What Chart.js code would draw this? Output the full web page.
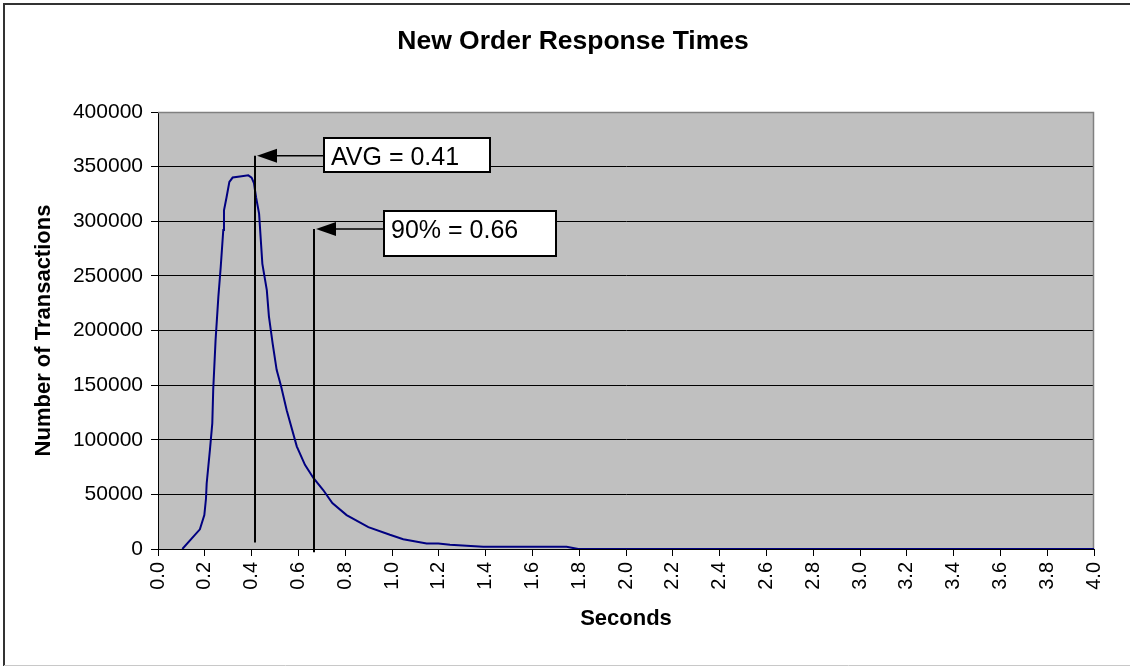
<!DOCTYPE html>
<html>
<head>
<meta charset="utf-8">
<script src="https://cdn.jsdelivr.net/npm/chart.js@4.4.1/dist/chart.umd.min.js"></script>
<style>
  html, body { margin: 0; padding: 0; background: #fff; }
  canvas { display: block; }
</style>
</head>
<body>
<canvas id="c" width="1130" height="666"></canvas>
<script>
// ---- Data ----
const chartTitle = 'New Order Response Times';
const seconds = [0.104, 0.179, 0.198, 0.205, 0.208, 0.222, 0.232, 0.236, 0.246, 0.258, 0.268, 0.279, 0.282, 0.293, 0.305, 0.319, 0.350, 0.386, 0.400, 0.410, 0.419, 0.432, 0.446, 0.465, 0.474, 0.490, 0.507, 0.526, 0.550, 0.593, 0.628, 0.664, 0.706, 0.745, 0.806, 0.899, 0.991, 1.048, 1.148, 1.198, 1.248, 1.390, 1.746, 1.796, 4.0];
const transactions = [0, 18000, 31000, 46000, 60000, 91000, 115000, 146000, 191000, 231000, 258000, 292000, 310000, 322000, 336000, 340000, 341000, 342000, 340000, 335000, 322000, 307000, 261000, 237000, 213000, 188000, 164000, 149000, 127000, 94000, 77000, 65000, 54000, 42000, 31000, 20000, 13000, 9000, 5000, 5000, 4000, 2000, 2000, 0, 0];
const xTickValues = [0.0, 0.2, 0.4, 0.6, 0.8, 1.0, 1.2, 1.4, 1.6, 1.8, 2.0, 2.2, 2.4, 2.6, 2.8, 3.0, 3.2, 3.4, 3.6, 3.8, 4.0];
const yTickValues = [0, 50000, 100000, 150000, 200000, 250000, 300000, 350000, 400000];

// Annotation markers (values in data units)
const markerLabels = ['AVG = 0.41', '90% = 0.66'];
const markerSeconds = [0.416, 0.667];
const markerTopValue = [360000, 293000];
const markerBottomValue = [6000, -3000];
const markerBoxSeconds = [0.711, 0.966];

// ---- Styles ----
const FONT = "'Liberation Sans', Arial, Helvetica, sans-serif";
const markerStyle = { boxWidths: [166, 172], boxHeights: [34, 45], textPadLeft: 7, fontSize: 25, headLen: 20, headHalf: 7 };
const titleStyle = { x: 573, y: 42, size: 26.5 };

const bgPlugin = {
  id: 'bg',
  beforeDraw(chart) {
    const { ctx, chartArea: a } = chart;
    ctx.save();
    ctx.fillStyle = '#C0C0C0';
    ctx.fillRect(a.left, a.top, a.right - a.left, a.bottom - a.top);
    ctx.restore();
  },
  beforeDatasetsDraw(chart) {
    const { ctx, chartArea: a } = chart;
    ctx.save();
    // plot top & right border (gray)
    ctx.strokeStyle = '#808080';
    ctx.lineWidth = 1.5;
    ctx.beginPath();
    ctx.moveTo(a.left, Math.round(a.top) + 0.5);
    ctx.lineTo(Math.round(a.right) - 0.5, Math.round(a.top) + 0.5);
    ctx.lineTo(Math.round(a.right) - 0.5, a.bottom);
    ctx.stroke();
    ctx.restore();
  },
  afterDraw(chart) {
    const { ctx } = chart;
    ctx.save();
    // title
    ctx.fillStyle = '#000';
    ctx.font = 'bold ' + titleStyle.size + 'px ' + FONT;
    ctx.textAlign = 'center';
    ctx.textBaseline = 'middle';
    ctx.fillText(chartTitle, titleStyle.x, titleStyle.y);
    // outer frame
    ctx.strokeStyle = '#333333';
    ctx.lineWidth = 2;
    ctx.beginPath();
    ctx.moveTo(4, 666);
    ctx.lineTo(4, 4);
    ctx.lineTo(1130, 4);
    ctx.stroke();
    ctx.strokeStyle = '#C8C8C8';
    ctx.lineWidth = 1;
    ctx.beginPath();
    ctx.moveTo(4, 665.5);
    ctx.lineTo(1130, 665.5);
    ctx.stroke();
    ctx.restore();
  }
};

const markerPlugin = {
  id: 'markers',
  afterDatasetsDraw(chart) {
    const { ctx } = chart;
    const xs = chart.scales.x, ys = chart.scales.y;
    ctx.save();
    for (let i = 0; i < markerLabels.length; i++) {
      const x = Math.round(xs.getPixelForValue(markerSeconds[i]));
      const yTop = ys.getPixelForValue(markerTopValue[i]);
      const yBot = ys.getPixelForValue(markerBottomValue[i]);
      const bx = Math.round(xs.getPixelForValue(markerBoxSeconds[i]));
      const bw = markerStyle.boxWidths[i], bh = markerStyle.boxHeights[i];
      // vertical line
      ctx.strokeStyle = '#000';
      ctx.lineWidth = 2;
      ctx.beginPath();
      ctx.moveTo(x, yTop);
      ctx.lineTo(x, yBot);
      ctx.stroke();
      // horizontal arrow shaft
      ctx.lineWidth = 1.5;
      ctx.beginPath();
      ctx.moveTo(bx, yTop);
      ctx.lineTo(x + 2 + markerStyle.headLen, yTop);
      ctx.stroke();
      // arrow head
      ctx.fillStyle = '#000';
      ctx.beginPath();
      ctx.moveTo(x + 2, yTop);
      ctx.lineTo(x + 2 + markerStyle.headLen, yTop - markerStyle.headHalf);
      ctx.lineTo(x + 2 + markerStyle.headLen, yTop + markerStyle.headHalf);
      ctx.closePath();
      ctx.fill();
      // box
      const by = Math.round(yTop - 18);
      ctx.fillStyle = '#fff';
      ctx.fillRect(bx, by, bw, bh);
      ctx.lineWidth = 2;
      ctx.strokeStyle = '#000';
      ctx.strokeRect(bx, by, bw, bh);
      // text
      ctx.fillStyle = '#000';
      ctx.font = markerStyle.fontSize + 'px ' + FONT;
      ctx.textBaseline = 'alphabetic';
      ctx.textAlign = 'left';
      ctx.fillText(markerLabels[i], bx + markerStyle.textPadLeft, by + 27);
    }
    ctx.restore();
  }
};

new Chart(document.getElementById('c'), {
  type: 'scatter',
  data: {
    datasets: [{
      data: seconds.map((s, i) => ({ x: s, y: transactions[i] })),
      showLine: true,
      borderColor: '#000080',
      borderWidth: 2,
      pointRadius: 0,
      tension: 0,
      fill: false
    }]
  },
  options: {
    responsive: false,
    animation: false,
    events: [],
    layout: { padding: { left: 16, right: 36, top: 112, bottom: 0 } },
    plugins: {
      legend: { display: false },
      tooltip: { enabled: false },
      title: { display: false }
    },
    scales: {
      x: {
        type: 'linear',
        min: 0,
        max: 4,
        afterBuildTicks: (s) => { s.ticks = xTickValues.map(v => ({ value: v })); },
        afterFit: (s) => { s.height = 117; },
        ticks: {
          autoSkip: false,
          maxRotation: 90,
          minRotation: 90,
          padding: 6,
          color: '#000',
          font: { family: FONT, size: 20 },
          callback: (v) => Number(v).toFixed(1)
        },
        grid: { drawOnChartArea: false, drawTicks: true, tickLength: 7, color: '#000' },
        border: { color: '#000', width: 1 },
        title: {
          display: true,
          text: 'Seconds',
          color: '#000',
          font: { family: FONT, size: 22, weight: 'bold' },
          padding: { top: 0, bottom: 34 }
        }
      },
      y: {
        min: 0,
        max: 400000,
        afterBuildTicks: (s) => { s.ticks = yTickValues.map(v => ({ value: v })); },
        afterFit: (s) => { s.width = 142; },
        ticks: {
          padding: 8,
          color: '#000',
          font: { family: FONT, size: 21 },
          callback: (v) => String(v)
        },
        grid: { color: '#000', lineWidth: 1, tickLength: 7, drawTicks: true },
        border: { color: '#000', width: 1 },
        title: {
          display: true,
          text: 'Number of Transactions',
          color: '#000',
          font: { family: FONT, size: 22, weight: 'bold' },
          padding: { top: 15, bottom: 0 }
        }
      }
    }
  },
  plugins: [bgPlugin, markerPlugin]
});
</script>
</body>
</html>
